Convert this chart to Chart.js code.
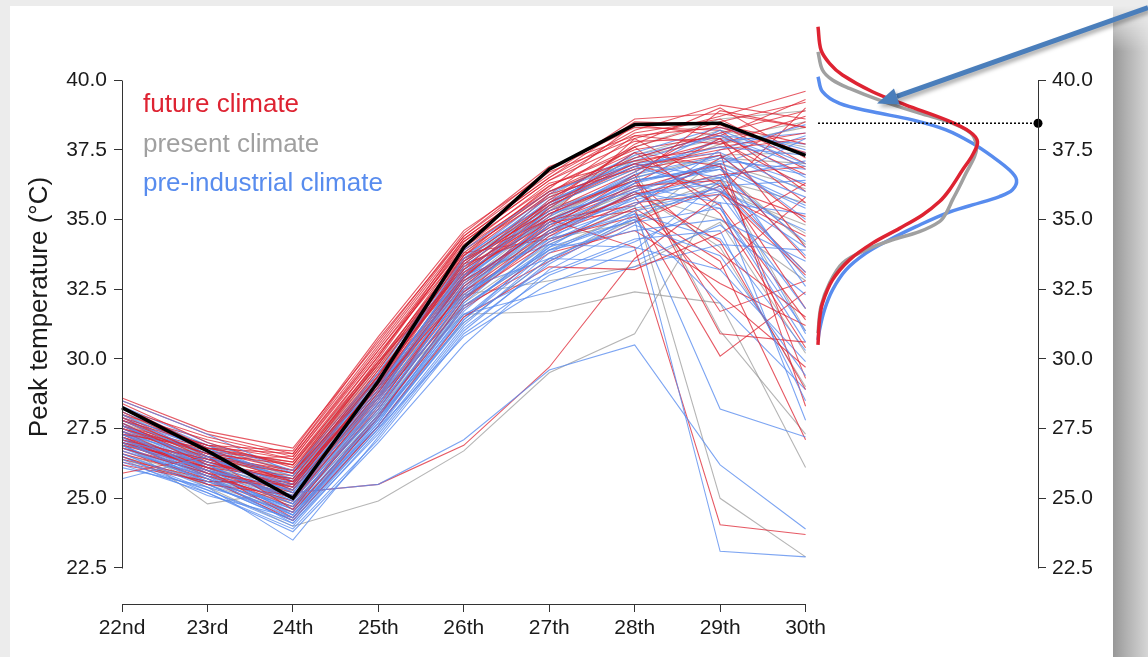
<!DOCTYPE html>
<html>
<head>
<meta charset="utf-8">
<script src="https://cdn.jsdelivr.net/npm/chart.js@4.4.1/dist/chart.umd.min.js"></script>
<style>
    html, body { margin: 0; padding: 0; }
    body { width: 1148px; height: 657px; background: #ececec; position: relative; overflow: hidden; }
    #panel { position: absolute; left: 10px; top: 6px; width: 1103px; height: 680px; background: #fff; }
    #shade {
        position: absolute; left: 1113px; top: 6px; width: 35px; height: 660px;
        background: linear-gradient(to right, #979797 0%, #b2b2b2 40%, #d6d6d6 100%);
        -webkit-mask-image: linear-gradient(to bottom, transparent 0, #000 45px);
        mask-image: linear-gradient(to bottom, transparent 0, #000 45px);
    }
    #mainChart { position: absolute; left: 0; top: 0; }
    #densChart { position: absolute; left: 800px; top: 0; }
</style>
</head>
<body>
<div id="panel"></div>
<div id="shade"></div>
<canvas id="mainChart" width="830" height="657"></canvas>
<canvas id="densChart" width="348" height="657"></canvas>
<script>
// Data

const days = ['22nd', '23rd', '24th', '25th', '26th', '27th', '28th', '29th', '30th'];
const yTicks = [22.5, 25.0, 27.5, 30.0, 32.5, 35.0, 37.5, 40.0];
const legendNames = ['future climate', 'present climate', 'pre-industrial climate'];

// observed peak temperatures
const observed = [28.25, 26.7, 25.0, 29.2, 34.0, 36.8, 38.4, 38.45, 37.3];

// model runs, future climate
const futureRuns = [
    [27.8, 26.9, 26.7, 30.8, 34.6, 36.7, 37.9, 38.7, 39.6],
    [28.2, 27.2, 26.5, 30.4, 34.3, 36.5, 38.2, 39.1, 38.6],
    [27.5, 26.6, 26.2, 30.1, 34.1, 36.2, 37.6, 38.5, 39.2],
    [28.6, 27.4, 26.8, 30.6, 34.5, 36.9, 38.0, 38.3, 37.4],
    [27.1, 26.4, 25.9, 29.6, 33.8, 36.0, 37.2, 38.1, 38.9],
    [26.8, 25.9, 25.4, 29.2, 33.4, 35.6, 37.0, 37.8, 36.2],
    [27.6, 26.2, 25.7, 29.4, 33.7, 35.9, 36.8, 37.3, 34.9],
    [27.3, 26.8, 26.3, 29.9, 33.2, 35.2, 36.5, 38.9, 38.3],
    [26.5, 25.5, 25.1, 28.8, 32.9, 35.4, 37.4, 36.9, 33.6],
    [27.9, 26.5, 24.6, 28.3, 32.6, 35.0, 36.2, 36.4, 31.8],
    [27.0, 25.8, 24.9, 28.6, 33.0, 35.7, 37.6, 35.2, 30.4],
    [28.4, 27.0, 26.1, 29.8, 34.0, 36.3, 37.1, 37.6, 38.1],
    [26.2, 25.6, 25.5, 29.0, 32.4, 34.6, 35.9, 36.6, 36.9],
    [27.4, 26.0, 24.3, 27.9, 32.1, 34.4, 36.0, 34.2, 28.9],
    [25.9, 26.5, 25.9, 29.3, 33.3, 35.5, 36.9, 37.5, 37.9],
    [27.2, 26.1, 25.2, 25.5, 26.9, 29.7, 33.6, 35.9, 34.4],
    [27.7, 26.3, 25.6, 29.1, 33.6, 35.0, 34.0, 24.05, 23.7],
    [27.0, 26.2, 25.8, 29.5, 33.1, 34.9, 35.3, 30.1, 32.4],
    [27.5, 26.4, 25.3, 28.9, 32.8, 34.7, 36.6, 30.9, 30.6],
    [28.0, 27.1, 26.4, 30.3, 34.2, 36.4, 37.8, 37.9, 35.6],
    [26.9, 26.1, 25.0, 28.5, 32.5, 34.9, 36.1, 37.0, 29.3],
    [27.3, 25.9, 24.8, 28.2, 32.2, 34.2, 35.4, 33.5, 27.1],
    [28.1, 26.7, 26.0, 29.7, 33.9, 36.1, 38.4, 38.0, 36.6],
    [27.6, 26.6, 25.6, 29.0, 33.5, 35.3, 36.7, 38.4, 37.7],
    [26.7, 25.7, 24.5, 28.0, 31.8, 33.8, 34.6, 32.7, 31.2],
    [27.2, 26.3, 25.4, 29.2, 33.0, 35.1, 37.9, 36.2, 35.1],
    [28.3, 26.8, 26.6, 30.5, 34.4, 36.6, 38.6, 38.8, 38.3],
    [27.8, 26.4, 25.5, 29.4, 33.4, 34.5, 35.6, 35.9, 39.0],
    [26.4, 25.7, 24.2, 27.6, 31.5, 33.3, 33.2, 34.5, 36.3],
    [27.0, 26.1, 25.7, 29.6, 33.6, 35.6, 36.9, 37.4, 28.3],
    [27.4, 26.5, 26.0, 30.0, 34.2, 36.4, 38.1, 38.6, 37.0],
    [26.6, 25.8, 25.3, 28.9, 33.0, 35.2, 36.4, 33.8, 31.5],
    [27.9, 26.9, 26.4, 30.2, 33.9, 35.8, 37.0, 36.0, 33.0],
    [27.1, 26.0, 25.0, 28.7, 32.7, 34.8, 35.8, 32.3, 29.7],
    [28.5, 27.3, 26.6, 30.7, 34.4, 36.8, 38.3, 38.2, 36.0],
    [26.9, 26.3, 25.7, 29.3, 33.3, 35.0, 35.5, 37.2, 38.5],
    [27.6, 26.8, 26.2, 29.8, 33.7, 36.2, 37.5, 38.0, 39.3],
    [27.2, 25.9, 24.7, 28.4, 32.3, 34.5, 36.3, 37.9, 34.0],
    [26.3, 25.6, 25.6, 29.1, 32.9, 35.6, 37.7, 39.0, 37.2],
    [27.8, 26.6, 25.9, 29.9, 33.8, 34.3, 35.1, 33.2, 35.8],
    [27.0, 26.4, 26.5, 30.3, 34.0, 36.0, 37.4, 35.5, 31.4],
    [28.0, 26.5, 25.3, 29.0, 33.2, 35.9, 38.0, 37.7, 38.7],
    [26.8, 26.0, 25.1, 28.6, 31.9, 33.5, 34.9, 36.2, 33.1],
    [27.5, 26.7, 26.3, 30.1, 34.3, 36.5, 38.5, 38.4, 36.8],
    [27.3, 26.2, 25.5, 29.4, 33.5, 35.3, 36.4, 31.7, 32.8]
];

// model runs, present climate
const presentRuns = [
    [26.9, 25.4, 24.0, 24.9, 26.7, 29.5, 30.9, 36.0, 34.8],
    [27.0, 24.8, 25.3, 28.6, 32.6, 34.5, 36.2, 36.5, 31.0],
    [27.5, 26.3, 25.6, 29.3, 33.2, 35.3, 37.3, 38.2, 37.6],
    [27.8, 26.6, 25.9, 29.7, 33.5, 35.8, 37.6, 38.6, 38.9],
    [26.6, 25.7, 24.8, 28.1, 32.0, 34.1, 35.5, 25.0, 22.9],
    [27.3, 26.0, 25.1, 28.7, 31.6, 31.7, 32.4, 32.0, 26.1],
    [27.1, 26.2, 25.3, 28.9, 32.3, 32.8, 33.3, 34.9, 30.2],
    [28.0, 26.9, 26.2, 29.9, 33.8, 36.0, 37.1, 37.0, 36.1],
    [26.4, 25.5, 24.5, 27.9, 31.3, 33.6, 35.0, 36.3, 34.5],
    [27.6, 26.5, 25.7, 29.1, 33.0, 35.0, 36.6, 37.7, 38.3],
    [26.8, 25.9, 25.0, 28.4, 32.4, 34.8, 36.0, 34.0, 29.0],
    [27.4, 26.1, 25.4, 29.0, 32.8, 34.3, 34.9, 37.2, 37.0],
    [27.9, 26.4, 25.8, 29.4, 33.3, 35.5, 36.8, 31.0, 27.3],
    [27.2, 26.0, 25.2, 28.8, 32.7, 35.1, 36.5, 37.3, 37.4],
    [26.5, 25.6, 24.7, 28.0, 31.9, 33.9, 35.3, 36.4, 35.6],
    [27.7, 26.6, 25.8, 29.5, 33.4, 35.6, 37.2, 37.9, 38.5],
    [27.0, 25.8, 24.9, 28.3, 32.1, 34.6, 35.9, 35.0, 32.8],
    [28.1, 26.8, 26.0, 29.8, 33.6, 35.4, 36.4, 36.8, 34.1]
];

// model runs, pre-industrial climate
const preindRuns = [
    [25.7, 26.5, 25.2, 25.5, 27.1, 29.6, 30.5, 26.2, 23.9],
    [27.0, 25.8, 24.4, 27.7, 31.9, 34.0, 35.0, 23.1, 22.9],
    [26.6, 25.4, 23.5, 27.2, 31.0, 33.5, 35.2, 28.2, 27.2],
    [27.3, 26.0, 24.8, 28.2, 32.5, 34.8, 36.1, 36.8, 35.4],
    [27.6, 26.3, 25.1, 28.6, 33.0, 35.3, 36.5, 37.2, 36.6],
    [26.9, 25.7, 24.3, 27.8, 31.8, 34.2, 35.6, 36.1, 33.1],
    [27.8, 26.5, 25.4, 28.9, 33.3, 35.6, 36.9, 37.6, 37.3],
    [27.1, 26.2, 24.9, 28.3, 32.2, 34.5, 35.8, 36.6, 34.2],
    [26.3, 25.3, 24.0, 27.4, 31.2, 33.8, 35.3, 35.9, 31.8],
    [28.0, 26.7, 25.8, 29.3, 33.6, 35.9, 37.3, 38.0, 36.9],
    [27.4, 25.9, 24.6, 27.9, 31.6, 33.1, 34.3, 34.6, 28.5],
    [26.8, 25.6, 24.7, 28.0, 32.0, 34.6, 36.3, 37.0, 35.8],
    [27.5, 26.4, 25.5, 29.0, 33.2, 35.2, 36.0, 35.4, 30.6],
    [27.2, 25.5, 24.2, 27.5, 30.8, 32.7, 33.9, 36.4, 37.9],
    [28.3, 27.0, 26.0, 29.5, 33.9, 36.0, 37.0, 37.4, 36.0],
    [26.5, 25.2, 23.8, 27.0, 30.5, 33.2, 34.8, 33.7, 29.4],
    [27.7, 26.1, 25.0, 28.5, 32.7, 34.9, 36.4, 36.9, 32.6],
    [27.0, 26.0, 25.3, 28.8, 32.9, 35.1, 36.7, 38.2, 37.0],
    [26.1, 25.4, 24.5, 27.6, 31.4, 33.9, 34.6, 35.0, 33.5],
    [27.9, 26.6, 25.7, 29.2, 33.4, 35.7, 36.9, 36.0, 34.0],
    [27.3, 26.2, 24.8, 28.1, 32.3, 34.4, 35.5, 37.5, 38.4],
    [26.7, 25.8, 24.1, 27.3, 31.1, 33.4, 35.1, 36.2, 36.4],
    [27.6, 26.4, 25.2, 28.7, 32.8, 34.7, 35.9, 36.3, 30.9],
    [27.1, 25.7, 24.6, 28.4, 32.4, 35.0, 36.2, 35.6, 27.8],
    [28.5, 27.3, 25.9, 29.1, 33.1, 35.4, 37.1, 38.0, 37.7],
    [26.4, 25.1, 24.3, 27.7, 31.7, 34.3, 36.0, 37.1, 36.8],
    [27.4, 26.3, 25.4, 28.9, 33.0, 34.1, 34.0, 33.2, 29.9],
    [27.8, 26.8, 25.6, 29.0, 32.6, 34.9, 36.6, 37.3, 35.0],
    [26.9, 25.6, 24.4, 27.9, 32.1, 35.5, 37.4, 38.3, 37.5],
    [27.2, 26.0, 25.1, 28.6, 32.5, 33.6, 33.5, 34.8, 32.3],
    [27.5, 26.1, 24.9, 28.4, 32.6, 34.6, 35.7, 36.5, 37.1],
    [26.6, 25.5, 24.2, 27.6, 31.3, 33.6, 34.9, 35.4, 31.0],
    [27.9, 26.9, 25.6, 29.0, 33.1, 35.5, 36.8, 37.8, 38.1],
    [27.0, 25.9, 24.5, 28.0, 32.1, 34.8, 36.4, 36.8, 33.7],
    [26.2, 25.2, 23.9, 27.1, 30.9, 33.0, 34.2, 35.6, 35.2],
    [28.1, 26.8, 25.5, 29.2, 33.5, 35.8, 37.0, 36.5, 32.9],
    [27.3, 26.5, 25.3, 28.7, 32.9, 35.0, 36.3, 37.3, 36.3],
    [26.8, 25.9, 24.6, 27.8, 31.5, 34.0, 35.8, 37.0, 38.0],
    [27.7, 26.2, 25.0, 28.4, 32.4, 34.3, 35.2, 34.3, 30.3],
    [27.2, 25.8, 24.7, 28.2, 32.2, 34.5, 36.0, 36.9, 35.5],
    [26.5, 25.3, 24.1, 27.5, 31.4, 34.1, 35.4, 36.0, 34.6],
    [27.6, 26.6, 25.2, 28.8, 32.8, 35.2, 36.6, 37.9, 37.4],
    [27.0, 26.1, 24.4, 27.9, 31.9, 33.9, 35.0, 32.0, 28.9],
    [28.2, 26.9, 25.9, 29.4, 33.7, 35.6, 37.2, 38.1, 36.5],
    [26.9, 25.5, 24.3, 27.6, 31.6, 32.4, 33.3, 34.1, 33.9]
];

// density of the peak temperature (temperature, density) for each climate
const futureDensT = [41.91, 41.08, 40.60, 40.18, 39.58, 39.10, 38.57, 38.15, 37.79, 37.31, 36.77, 36.06, 35.64, 35.16, 34.68, 34.15, 33.55, 32.83, 32.00, 31.40, 30.50];
const futureDens  = [0, 0.006, 0.023, 0.049, 0.109, 0.176, 0.256, 0.303, 0.319, 0.309, 0.289, 0.263, 0.243, 0.209, 0.163, 0.109, 0.063, 0.029, 0.009, 0.003, 0];
const presentDensT = [41.01, 40.36, 40.00, 39.70, 39.28, 38.81, 38.45, 38.09, 37.63, 37.25, 36.66, 36.18, 35.70, 35.22, 34.92, 34.56, 34.27, 33.91, 33.43, 32.71, 31.88, 30.92];
const presentDens  = [0, 0.009, 0.029, 0.063, 0.123, 0.203, 0.269, 0.306, 0.317, 0.313, 0.296, 0.283, 0.269, 0.256, 0.243, 0.203, 0.149, 0.096, 0.049, 0.023, 0.006, 0];
const preindDensT = [40.12, 39.58, 39.16, 38.86, 38.57, 38.21, 37.73, 37.25, 36.77, 36.42, 36.06, 35.82, 35.52, 35.22, 34.74, 34.27, 33.79, 33.19, 32.47, 31.76, 31.04, 30.68];
const preindDens  = [0, 0.009, 0.043, 0.109, 0.189, 0.256, 0.309, 0.349, 0.383, 0.397, 0.389, 0.363, 0.309, 0.256, 0.196, 0.143, 0.096, 0.056, 0.029, 0.013, 0.003, 0];

// arrow annotation (density, temperature)
const arrowTip = [0.118, 39.16];
const arrowTail = [0.66, 42.6];

// Styles

const RED = 'rgb(222, 35, 50)';
const GREY = 'rgb(160, 160, 160)';
const BLUE = 'rgb(88, 140, 238)';
const runColors = ['rgba(222, 35, 50, 0.75)', 'rgba(150, 150, 150, 0.7)', 'rgba(88, 140, 238, 0.78)'];
const FONT = '"Liberation Sans", Arial, Helvetica, sans-serif';
const Y_MIN = 21.209;
const Y_MAX = 40;

Chart.defaults.font.family = FONT;
Chart.defaults.animation = false;

const setTicks = scale => {
    scale.ticks = yTicks.map(v => ({ value: v }));
};

// vertical axis line that only spans the tick range
const axisLinePlugin = {
    id: 'axisLine',
    afterDraw(chart, args, opts) {
        const ctx = chart.ctx;
        const y = chart.scales.y;
        const x0 = Math.round(opts.side === 'right' ? chart.chartArea.right : chart.chartArea.left) + 0.5;
        ctx.save();
        ctx.strokeStyle = '#333';
        ctx.lineWidth = 1;
        ctx.beginPath();
        ctx.moveTo(x0, Math.round(y.getPixelForValue(yTicks[yTicks.length - 1])) + 0.5);
        ctx.lineTo(x0, Math.round(y.getPixelForValue(yTicks[0])) + 0.5);
        ctx.stroke();
        ctx.restore();
    }
};

const textPlugin = {
    id: 'texts',
    afterDraw(chart) {
        const ctx = chart.ctx;
        ctx.save();
        // legend
        ctx.font = '26px ' + FONT;
        ctx.textAlign = 'left';
        ctx.textBaseline = 'alphabetic';
        [RED, GREY, BLUE].forEach((c, i) => {
            ctx.fillStyle = c;
            ctx.fillText(legendNames[i], 143, 112 + i * 39.5);
        });
        // y axis title
        ctx.translate(40, 307);
        ctx.rotate(-Math.PI / 2);
        ctx.textAlign = 'center';
        ctx.textBaseline = 'middle';
        ctx.fillStyle = '#1a1a1a';
        ctx.fillText('Peak temperature (\u00B0C)', 0, 0);
        ctx.restore();
    }
};

const arrowPlugin = {
    id: 'arrow',
    afterDatasetsDraw(chart) {
        const ctx = chart.ctx;
        const xs = chart.scales.x, ys = chart.scales.y;
        const tx = xs.getPixelForValue(arrowTip[0]), ty = ys.getPixelForValue(arrowTip[1]);
        const sx = xs.getPixelForValue(arrowTail[0]), sy = ys.getPixelForValue(arrowTail[1]);
        const ang = Math.atan2(ty - sy, tx - sx);
        const headLen = 21, headW = 8.5;
        const bx = tx - headLen * Math.cos(ang), by = ty - headLen * Math.sin(ang);
        ctx.save();
        ctx.shadowColor = 'rgba(0, 0, 0, 0.35)';
        ctx.shadowBlur = 4;
        ctx.shadowOffsetX = 2;
        ctx.shadowOffsetY = 3;
        ctx.strokeStyle = '#4a7ebb';
        ctx.fillStyle = '#4a7ebb';
        ctx.lineWidth = 5;
        ctx.beginPath();
        ctx.moveTo(sx, sy);
        ctx.lineTo(bx, by);
        ctx.stroke();
        ctx.beginPath();
        ctx.moveTo(tx, ty);
        ctx.lineTo(bx + headW * Math.sin(ang), by - headW * Math.cos(ang));
        ctx.lineTo(bx - headW * Math.sin(ang), by + headW * Math.cos(ang));
        ctx.closePath();
        ctx.fill();
        ctx.restore();
    }
};

// Main chart: runs + observed

const runDataset = (values, color) => ({
    data: values,
    borderColor: color,
    borderWidth: 1.1,
    pointRadius: 0,
    tension: 0
});

const datasets = [{
    data: observed,
    borderColor: '#000',
    borderWidth: 3.5,
    pointRadius: 0,
    tension: 0
}];
// red and blue interleaved, grey underneath
for (let i = 0; i < Math.max(futureRuns.length, preindRuns.length); i++) {
    if (futureRuns[i]) datasets.push(runDataset(futureRuns[i], runColors[0]));
    if (preindRuns[i]) datasets.push(runDataset(preindRuns[i], runColors[2]));
}
presentRuns.forEach(r => datasets.push(runDataset(r, runColors[1])));

new Chart(document.getElementById('mainChart'), {
    type: 'line',
    data: { labels: days, datasets: datasets },
    options: {
        responsive: false,
        layout: { padding: { left: 0, top: 80, right: 24, bottom: 0 } },
        plugins: {
            legend: { display: false },
            tooltip: { enabled: false },
            axisLine: { side: 'left' }
        },
        events: [],
        scales: {
            x: {
                type: 'category',
                afterFit: s => { s.height = 53; },
                border: { display: true, color: '#333', width: 1 },
                grid: { drawOnChartArea: false, drawTicks: true, tickLength: 8, color: '#333' },
                ticks: { color: '#1a1a1a', font: { size: 21 }, padding: 4, maxRotation: 0, autoSkip: false }
            },
            y: {
                min: Y_MIN,
                max: Y_MAX,
                afterBuildTicks: setTicks,
                afterFit: s => { s.width = 122; },
                border: { display: false },
                grid: { drawOnChartArea: false, drawTicks: true, tickLength: 8, color: '#333' },
                ticks: { color: '#1a1a1a', font: { size: 21 }, padding: 7, callback: v => Number(v).toFixed(1) }
            }
        }
    },
    plugins: [axisLinePlugin, textPlugin]
});

// Density panel

const toPoints = (dens, temps) => dens.map((d, i) => ({ x: d, y: temps[i] }));
const densDataset = (dens, temps, color) => ({
    data: toPoints(dens, temps),
    borderColor: color,
    borderWidth: 3.5,
    pointRadius: 0,
    tension: 0.35,
    clip: false
});
const obsPeak = Math.max(...observed);
const X_MAX = 0.44;

new Chart(document.getElementById('densChart'), {
    type: 'line',
    data: {
        datasets: [
            {
                data: [{ x: 0, y: obsPeak }, { x: X_MAX, y: obsPeak }],
                borderColor: '#000',
                backgroundColor: '#000',
                borderWidth: 1.5,
                borderDash: [2, 2],
                pointRadius: [0, 4.5],
                pointBorderWidth: 0,
                clip: false
            },
            densDataset(futureDens, futureDensT, RED),
            densDataset(presentDens, presentDensT, GREY),
            densDataset(preindDens, preindDensT, BLUE)
        ]
    },
    options: {
        responsive: false,
        layout: { padding: { left: 18, top: 80, right: 40, bottom: 53 } },
        plugins: {
            legend: { display: false },
            tooltip: { enabled: false },
            axisLine: { side: 'right' }
        },
        events: [],
        scales: {
            x: { type: 'linear', min: 0, max: X_MAX, display: false },
            y: {
                type: 'linear',
                position: 'right',
                min: Y_MIN,
                max: Y_MAX,
                afterBuildTicks: setTicks,
                afterFit: s => { s.width = 70; },
                border: { display: false },
                grid: { drawOnChartArea: false, drawTicks: true, tickLength: 8, color: '#333' },
                ticks: { color: '#1a1a1a', font: { size: 21 }, padding: 6, callback: v => Number(v).toFixed(1) }
            }
        }
    },
    plugins: [axisLinePlugin, arrowPlugin]
});
</script>
</body>
</html>
